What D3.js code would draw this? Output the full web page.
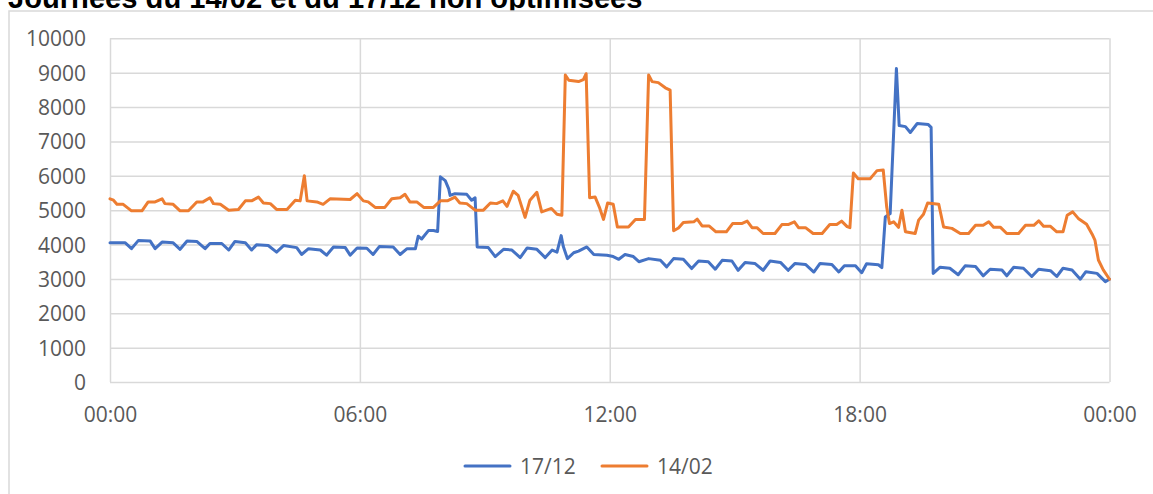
<html>
    <head>
        <meta charset="utf-8" />
        <script src="https://d3js.org/d3.v7.min.js"></script>
        <title>Journées du 14/02 et du 17/12 non optimisées</title>
        <style>
            body { margin: 0; background: white; }
            text { font-family: "Open Sans", "Noto Sans", sans-serif; }
        </style>
    </head>
    <body>
        <div id="chart-container"></div>
        <script>
            const title = "Journées du 14/02 et du 17/12 non optimisées";
            const seriesNames = ["17/12", "14/02"];
            const seriesColors = ["#4472C4", "#ED7D31"];
            const yTicks = [0, 1000, 2000, 3000, 4000, 5000, 6000, 7000, 8000, 9000, 10000];
            const xTicks = [0, 360, 720, 1080, 1440]; // minutes since midnight

            // [minutes since 00:00, value]
            const data1712 = [
                [0,4050],[22,4050],[31,3880],[41,4120],[58,4100],[65,3880],[75,4070],[91,4050],[101,3860],[111,4100],
                [125,4090],[137,3880],[144,4030],[161,4030],[171,3840],[180,4090],[195,4050],[204,3840],[211,3990],[228,3970],
                [240,3780],[250,3970],[269,3910],[276,3710],[286,3880],[303,3840],[312,3690],[322,3930],[339,3910],[346,3690],
                [356,3900],[370,3890],[379,3710],[388,3940],[408,3930],[418,3710],[428,3880],[440,3880],[444,4240],[449,4160],
                [459,4410],[466,4410],[472,4380],[476,5970],[483,5860],[488,5620],[490,5430],[497,5480],[514,5460],[521,5290],
                [526,5360],[529,3930],[545,3910],[555,3650],[567,3860],[579,3840],[591,3620],[601,3900],[615,3860],[627,3620],
                [637,3840],[644,3780],[650,4260],[653,3950],[659,3590],[668,3760],[675,3810],[687,3930],[697,3710],[716,3690],
                [725,3650],[733,3570],[742,3710],[754,3650],[762,3500],[776,3590],[793,3540],[802,3350],[812,3590],[826,3570],
                [838,3300],[848,3520],[862,3500],[872,3280],[882,3540],[896,3520],[905,3250],[915,3480],[929,3450],[941,3250],
                [951,3520],[966,3480],[977,3250],[987,3450],[1002,3420],[1014,3200],[1023,3450],[1040,3420],[1050,3200],[1058,3380],
                [1074,3380],[1083,3180],[1090,3440],[1107,3410],[1112,3330],[1117,4800],[1124,4900],[1133,9120],[1137,7460],[1146,7430],
                [1153,7260],[1163,7520],[1179,7490],[1183,7410],[1186,3160],[1196,3340],[1210,3310],[1222,3120],[1232,3380],[1247,3360],
                [1258,3090],[1268,3280],[1285,3260],[1292,3090],[1302,3340],[1316,3310],[1328,3070],[1338,3280],[1355,3240],[1364,3070],
                [1373,3310],[1386,3260],[1398,2990],[1406,3210],[1422,3160],[1434,2920],[1440,2990]
            ];

            const data1402 = [
                [0,5330],[5,5290],[10,5170],[19,5170],[31,4980],[46,4980],[55,5240],[65,5240],[75,5330],[79,5190],
                [91,5170],[101,4980],[113,4980],[125,5240],[134,5240],[144,5360],[149,5190],[159,5170],[171,5000],[185,5020],
                [195,5270],[204,5270],[214,5380],[221,5210],[231,5190],[240,5020],[255,5020],[267,5290],[274,5270],[280,6000],
                [284,5270],[298,5240],[307,5170],[317,5330],[346,5310],[356,5480],[365,5270],[372,5240],[382,5080],[396,5080],
                [406,5330],[418,5360],[425,5460],[432,5240],[442,5240],[452,5080],[466,5080],[476,5270],[486,5270],[497,5380],
                [504,5210],[514,5190],[526,5000],[538,5000],[548,5210],[557,5190],[566,5270],[572,5110],[581,5550],[588,5430],
                [598,4790],[605,5290],[615,5520],[622,4950],[636,5050],[644,4880],[651,4850],[656,8930],[661,8780],[675,8740],
                [682,8800],[686,8970],[691,5360],[699,5380],[705,5090],[711,4730],[717,5210],[725,5170],[731,4510],[747,4510],
                [757,4730],[770,4730],[776,8930],[781,8740],[790,8710],[800,8560],[807,8490],[812,4400],[819,4480],[826,4640],
                [841,4660],[846,4740],[853,4540],[863,4540],[873,4370],[888,4370],[897,4610],[910,4610],[918,4680],[925,4490],
                [932,4490],[941,4320],[958,4320],[968,4580],[977,4580],[986,4660],[992,4490],[1002,4490],[1013,4320],[1026,4320],
                [1037,4580],[1047,4580],[1054,4680],[1062,4520],[1066,4490],[1071,6080],[1078,5910],[1095,5910],[1105,6150],[1114,6170],
                [1119,5090],[1123,4610],[1129,4660],[1136,4500],[1141,5000],[1146,4370],[1160,4320],[1165,4710],[1172,4880],[1178,5210],
                [1194,5170],[1201,4510],[1213,4470],[1225,4320],[1237,4320],[1247,4560],[1258,4560],[1266,4660],[1273,4500],[1283,4500],
                [1292,4320],[1309,4320],[1319,4560],[1331,4560],[1338,4690],[1345,4530],[1355,4530],[1364,4370],[1373,4370],[1379,4850],
                [1387,4950],[1395,4760],[1407,4590],[1415,4300],[1419,4130],[1424,3550],[1431,3260],[1440,2990]
            ];

            const w = 1153;
            const h = 494;
            const plotLeft = 110, plotRight = 1109.5, plotTop = 38.3, plotBottom = 382;
            const grid = "#d9d9d9";
            const textColor = "#595959";

            const svg = d3.select("#chart-container")
                            .append("svg")
                            .attr("width", w)
                            .attr("height", h)
                            .style("display", "block");

            // title (mostly cut off at the top, as in the source)
            const t = svg.append("text")
                        .attr("x", 8)
                        .attr("y", 7.5)
                        .style("font-family", "'Liberation Sans', Arial, sans-serif")
                        .style("font-weight", "bold")
                        .style("font-size", "29px")
                        .attr("fill", "#000")
                        .text(title);
            const tl = t.node().getComputedTextLength();
            t.style("font-size", (29 * 635 / tl) + "px");

            // chart frame
            svg.append("rect")
                .attr("x", 9)
                .attr("y", 11)
                .attr("width", w + 20)
                .attr("height", h + 20)
                .attr("fill", "white")
                .attr("stroke", grid)
                .attr("stroke-width", 1.5);

            const xScale = d3.scaleLinear().domain([0, 1440]).range([plotLeft, plotRight]);
            const yScale = d3.scaleLinear().domain([0, 10000]).range([plotBottom, plotTop]);

            const xAxis = d3.axisBottom(xScale)
                            .tickValues(xTicks)
                            .tickSize(-(plotBottom - plotTop))
                            .tickPadding(25)
                            .tickFormat((d) => d3.format("02")(Math.floor(d / 60) % 24) + ":" + d3.format("02")(d % 60));

            const yAxis = d3.axisLeft(yScale)
                            .tickValues(yTicks)
                            .tickSize(-(plotRight - plotLeft))
                            .tickPadding(24)
                            .tickFormat(d3.format("d"));

            svg //y axis with horizontal grid
                .append("g")
                .attr("id", "y-axis")
                .attr("transform", "translate(" + plotLeft + ",0)")
                .call(yAxis)
                .call((g) => g.select(".domain").remove())
                .call((g) => g.selectAll("line").attr("stroke", grid).attr("stroke-width", 1.5))
                .call((g) => g.selectAll("text").attr("fill", textColor).style("font-size", "21px").attr("dy", "0.36em"));

            svg //x axis with vertical grid
                .append("g")
                .attr("id", "x-axis")
                .attr("transform", "translate(0," + plotBottom + ")")
                .call(xAxis)
                .call((g) => g.select(".domain").remove())
                .call((g) => g.selectAll("line").attr("stroke", grid).attr("stroke-width", 1.5))
                .call((g) => g.selectAll("text").attr("fill", textColor).style("font-size", "21px"));

            const line = d3.line()
                            .x((d) => xScale(d[0]))
                            .y((d) => yScale(d[1]));

            [data1712, data1402].forEach((s, i) => {
                svg.append("path")
                    .datum(s)
                    .attr("fill", "none")
                    .attr("stroke", seriesColors[i])
                    .attr("stroke-width", 3)
                    .attr("stroke-linejoin", "round")
                    .attr("stroke-linecap", "round")
                    .attr("d", line);
            });

            // legend
            const legend = svg.append("g").attr("id", "legend");
            const legendX = [465, 602];
            seriesNames.forEach((name, i) => {
                legend.append("line")
                    .attr("x1", legendX[i])
                    .attr("x2", legendX[i] + 45)
                    .attr("y1", 466)
                    .attr("y2", 466)
                    .attr("stroke", seriesColors[i])
                    .attr("stroke-width", 3)
                    .attr("stroke-linecap", "round");
                legend.append("text")
                    .attr("x", legendX[i] + 55)
                    .attr("y", 466)
                    .attr("dy", "0.36em")
                    .attr("fill", textColor)
                    .style("font-size", "21px")
                    .text(name);
            });
        </script>
    </body>
</html>
